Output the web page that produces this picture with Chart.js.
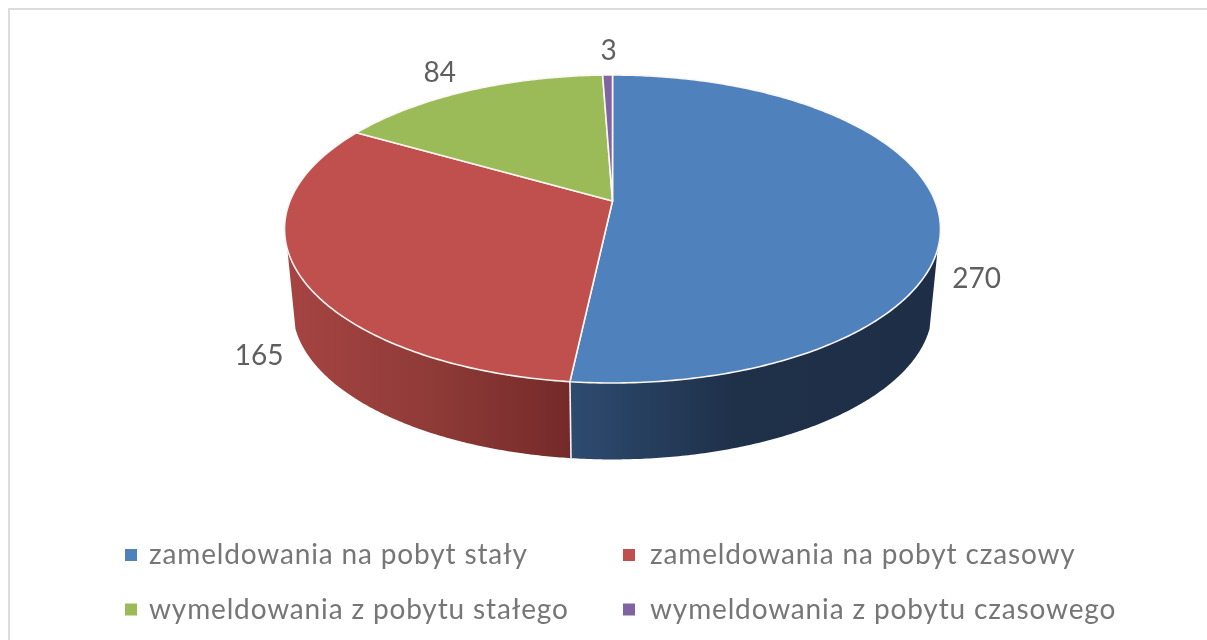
<!DOCTYPE html>
<html><head><meta charset="utf-8">
<style>html,body{margin:0;padding:0;background:#fff;overflow:hidden}canvas{display:block}</style>
<script src="https://cdn.jsdelivr.net/npm/chart.js@4/dist/chart.umd.min.js"></script>
</head><body>
<canvas id="c" width="1207" height="640"></canvas>
<script>
const categories = ['zameldowania na pobyt stały','zameldowania na pobyt czasowy','wymeldowania z pobytu stałego','wymeldowania z pobytu czasowego'];
const values = [270,165,84,3];
const topColors = ['#4f81bd','#c0504d','#9bbb59','#8064a2'];

const wallStops = [
  [[0,'#2d4b70'],[0.45,'#1f3049'],[1,'#1e2e47']],
  [[0,'#a64442'],[0.5,'#8f3b38'],[1,'#742a29']],
  [[0,'#9bbb59'],[1,'#9bbb59']],
  [[0,'#8064a2'],[1,'#8064a2']]
];
const labelOffsets = [[39,70],[-40,82],[-29,-18],[1,-24]];

// perspective of the disc
const P = {ax:612.5,ay:201,a:322.5,b:148.9,k:0.1818};
function proj(t,scale,ay){
  const X=Math.cos(t),Y=Math.sin(t),d=1-P.k*Y;
  return [P.ax+scale*P.a*X/d,(ay)+scale*P.b*Y/d];
}
const WALL_AY=282, WALL_S=0.975, WALL_MIN=0.31, WALL_MAX=Math.PI-0.31;

const pie3d = {
  id:'pie3d',
  beforeDatasetsDraw(chart){
    const ctx=chart.ctx, arcs=chart.getDatasetMeta(0).data;
    // side walls
    arcs.forEach((el,i)=>{
      const s=Math.max(el.startAngle,WALL_MIN), e=Math.min(el.endAngle,WALL_MAX);
      if(e<=s) return;
      const N=160; const top=[],bot=[];
      for(let j=0;j<=N;j++){const t=s+(e-s)*j/N;top.push(proj(t,1,P.ay));bot.push(proj(t,WALL_S,WALL_AY));}
      const xs=top.concat(bot).map(p=>p[0]);
      const g=ctx.createLinearGradient(Math.min(...xs),0,Math.max(...xs),0);
      wallStops[i].forEach(st=>g.addColorStop(st[0],st[1]));
      ctx.beginPath();
      top.forEach((p,j)=>j?ctx.lineTo(p[0],p[1]):ctx.moveTo(p[0],p[1]));
      bot.reverse().forEach(p=>ctx.lineTo(p[0],p[1]));
      ctx.closePath();
      ctx.fillStyle=g;ctx.fill();
    });
    // seam between the walls on the front
    const seam=arcs[0].endAngle, a=proj(seam,1,P.ay), b=proj(seam,WALL_S,WALL_AY);
    ctx.beginPath();ctx.moveTo(a[0],a[1]);ctx.lineTo(b[0],b[1]);
    ctx.strokeStyle='#f2f2f2';ctx.lineWidth=1.6;ctx.stroke();
    // top faces
    arcs.forEach((el,i)=>{
      const N=Math.max(8,Math.ceil((el.endAngle-el.startAngle)*80));
      ctx.beginPath();ctx.moveTo(P.ax,P.ay);
      for(let j=0;j<=N;j++){const t=el.startAngle+(el.endAngle-el.startAngle)*j/N;const p=proj(t,1,P.ay);ctx.lineTo(p[0],p[1]);}
      ctx.closePath();
      ctx.fillStyle=el.options.backgroundColor;ctx.fill();
      ctx.strokeStyle='#fbf6f2';ctx.lineWidth=1.6;ctx.lineJoin='round';ctx.stroke();
    });
    return false;
  },
  afterDraw(chart){
    const ctx=chart.ctx, arcs=chart.getDatasetMeta(0).data;
    // data labels
    ctx.font='28px Lato';ctx.fillStyle='#5f5f5f';ctx.textAlign='center';ctx.textBaseline='middle';
    arcs.forEach((el,i)=>{
      const p=proj((el.startAngle+el.endAngle)/2,1,P.ay);
      ctx.fillText(String(values[i]),p[0]+labelOffsets[i][0],p[1]+labelOffsets[i][1]);
    });
    // legend
    const colX=[125,623], textX=[149,650], rowY=[555,609.5];
    ctx.textAlign='left';ctx.textBaseline='alphabetic';ctx.font='28px Lato';ctx.letterSpacing='0.85px';
    categories.forEach((lab,i)=>{
      const y=rowY[i>>1];
      ctx.fillStyle=topColors[i];ctx.fillRect(colX[i%2],y-6,12,12);
      ctx.fillStyle='#767676';
      ctx.fillText(lab,textX[i%2],y+9);
    });
    ctx.letterSpacing='0px';
  },
  beforeDraw(chart){
    const ctx=chart.ctx;
    ctx.strokeStyle='#dcdcdc';ctx.lineWidth=2;
    ctx.strokeRect(9,9,1300,700);
  }
};

new Chart(document.getElementById('c'),{
  type:'pie',
  data:{labels:categories,datasets:[{data:values,backgroundColor:topColors,borderColor:'#ffffff',borderWidth:1.5}]},
  options:{responsive:false,animation:false,radius:300,
    plugins:{legend:{display:false},tooltip:{enabled:false}}},
  plugins:[pie3d]
});
</script>
</body></html>
